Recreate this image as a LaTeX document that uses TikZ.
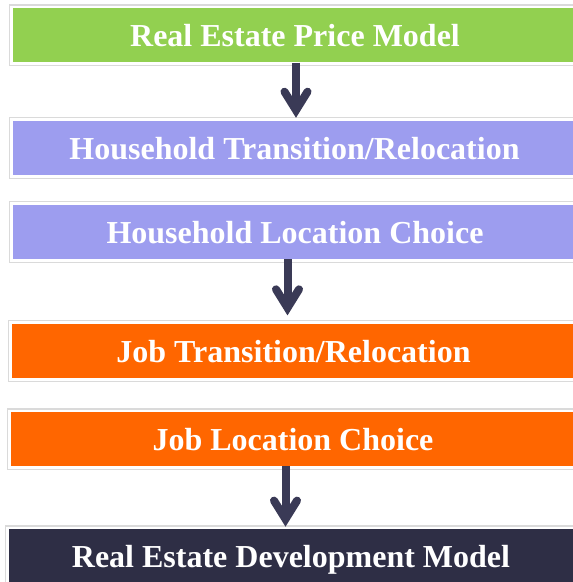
\documentclass[tikz,border=0pt]{standalone}
\usepackage{fontspec}
\setmainfont{Liberation Serif}
\usetikzlibrary{calc}
\definecolor{cgreen}{HTML}{92D050}
\definecolor{cpurple}{HTML}{9D9DEF}
\definecolor{corange}{HTML}{FF6600}
\definecolor{cdark}{HTML}{2E2E45}
\definecolor{carrow}{HTML}{3A3A56}
\definecolor{cframe}{HTML}{DADADA}
\tikzset{
  box/.style={rectangle, inner sep=0pt, minimum width=564pt, minimum height=54pt,
    text=white, text height=22.5pt, text depth=0pt,
    font=\fontsize{32}{36}\selectfont\bfseries},
  frame/.style={draw=cframe, line width=1.3pt},
  shaft/.style={draw=carrow, line width=8pt, line cap=butt},
  head/.style={draw=carrow, line width=8pt, line cap=round, line join=miter},
}
\begin{document}
\begin{tikzpicture}[x=1pt,y=-1pt]
\useasboundingbox (0,0) rectangle (573,582);
\node[box, fill=cgreen]  (a) at (295,35.3)  {Real Estate Price Model};
\node[box, fill=cpurple] (b) at (294.5,147.9) {Household Transition/Relocation};
\node[box, fill=cpurple] (c) at (295,232)   {Household Location Choice};
\node[box, fill=corange] (d) at (293.5,351) {Job Transition/Relocation};
\node[box, fill=corange] (e) at (293,439.2) {Job Location Choice};
\node[box, fill=cdark]   (f) at (291,556.3) {Real Estate Development Model};
\foreach \n in {a,b,c,d,e,f}
  \draw[frame] ([xshift=-3pt,yshift=3pt]\n.north west) rectangle ([xshift=3pt,yshift=-3.2pt]\n.south east);
% connectors
\coordinate (t1) at ($(b.north -| 296,0)+(0,-10.5)$);
\coordinate (t2) at ($(d.north -| 287.5,0)+(0,-16)$);
\coordinate (t3) at ($(f.north -| 285.5,0)+(0,-10)$);
\foreach \s/\t in {a/t1,c/t2,e/t3}{
  \draw[shaft] (\s.south -| \t) -- (\t);
  \draw[head] ($(\t)+(-11.5,-18.5)$) -- (\t) -- ($(\t)+(11.5,-18.5)$);
}
\end{tikzpicture}
\end{document}
